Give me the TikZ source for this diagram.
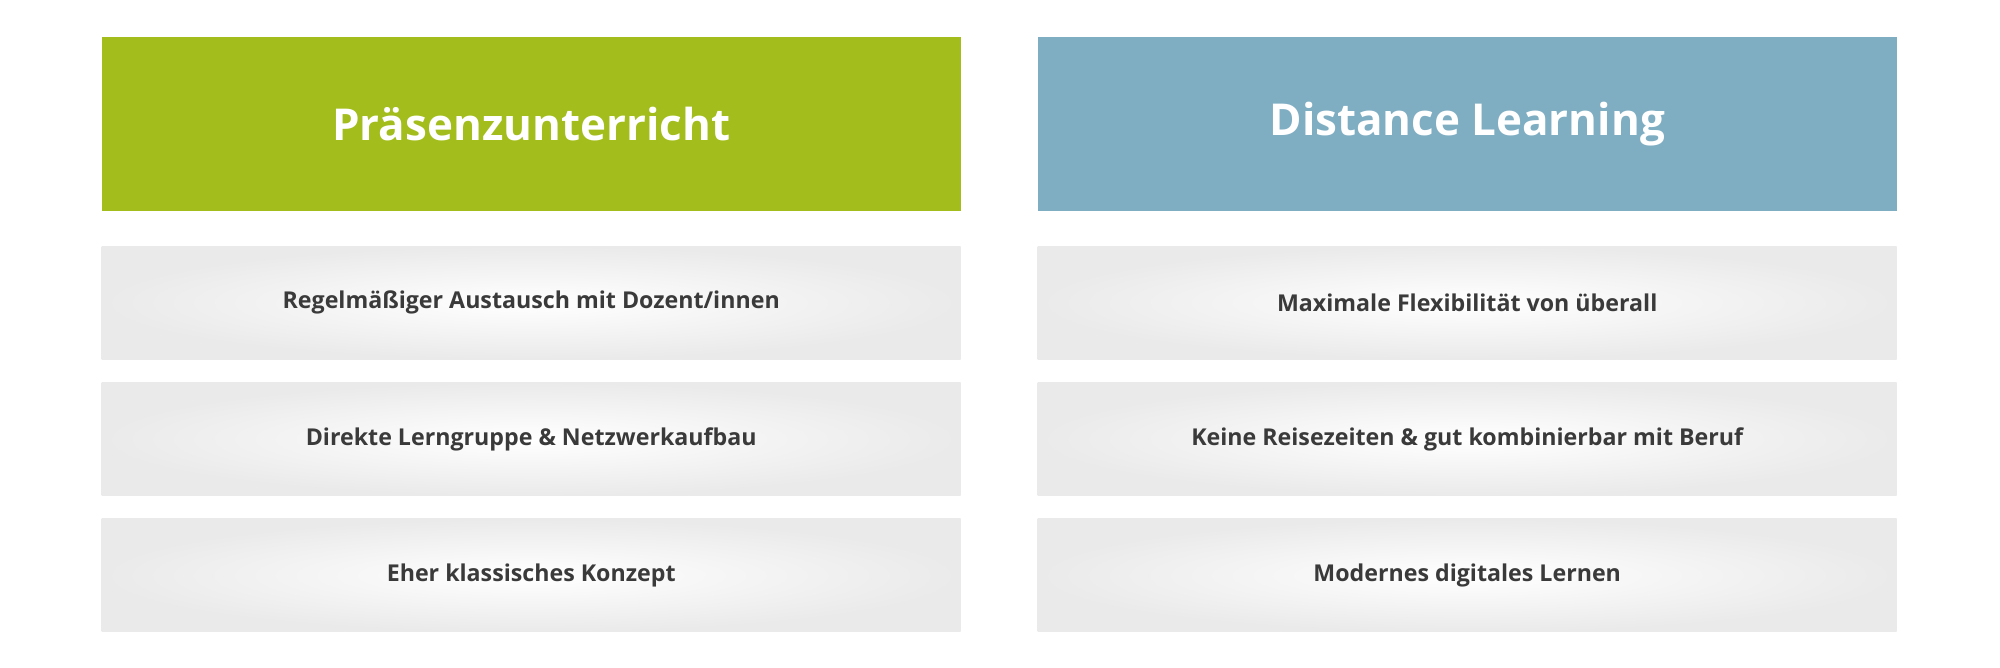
\documentclass[tikz,border=0pt]{standalone}
\usepackage{fontspec}
\setmainfont{Open Sans}
\usetikzlibrary{positioning}
\definecolor{headgreen}{HTML}{A3BD1C}
\definecolor{headblue}{HTML}{7FAEC3}
\definecolor{rowgray}{HTML}{EAEAEA}
\definecolor{textgray}{HTML}{3A3A3A}
\tikzset{
  headbox/.style={minimum width=8.59cm,minimum height=1.74cm,inner sep=0pt,
    text=white,font=\fontsize{12.5}{15}\selectfont\bfseries},
  rowbox/.style={minimum width=8.59cm,minimum height=1.13cm,inner sep=0pt,
    inner color=white,outer color=rowgray,text=textgray,
    font=\fontsize{6.6}{8}\selectfont\bfseries}
}
\begin{document}
\begin{tikzpicture}
\useasboundingbox (0,0) rectangle (20,-6.68);
% left column
\node[headbox,fill=headgreen,anchor=north west] (hl) at (1.01,-0.36) {Präsenzunterricht};
\node[rowbox,below=0.34cm of hl] (l1) {Regelmäßiger Austausch mit Dozent/innen};
\node[rowbox,below=0.22cm of l1] (l2) {Direkte Lerngruppe \& Netzwerkaufbau};
\node[rowbox,below=0.22cm of l2] (l3) {Eher klassisches Konzept};
% right column
\node[headbox,fill=headblue,anchor=north west] (hr) at (10.37,-0.36) {Distance Learning};
\node[rowbox,below=0.34cm of hr] (r1) {Maximale Flexibilität von überall};
\node[rowbox,below=0.22cm of r1] (r2) {Keine Reisezeiten \& gut kombinierbar mit Beruf};
\node[rowbox,below=0.22cm of r2] (r3) {Modernes digitales Lernen};
\end{tikzpicture}
\end{document}
